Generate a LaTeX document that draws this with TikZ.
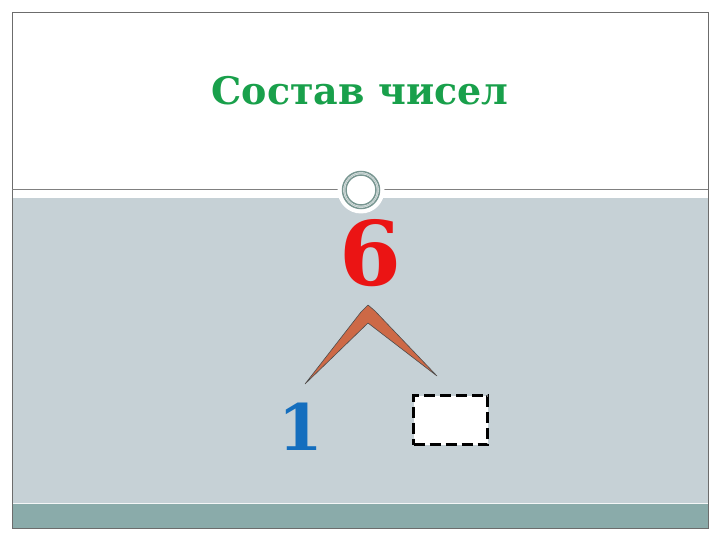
\documentclass[tikz,border=0pt]{standalone}
\usepackage{fontspec}
\setmainfont{DejaVu Serif}
\definecolor{bgray}{RGB}{198,209,214}
\definecolor{strip}{RGB}{138,171,170}
\definecolor{ttl}{RGB}{25,160,75}
\definecolor{six}{RGB}{235,20,20}
\definecolor{one}{RGB}{20,110,190}
\definecolor{ring}{RGB}{120,150,145}
\definecolor{chev}{RGB}{205,105,70}
\begin{document}
\begin{tikzpicture}[x=1pt,y=-1pt,
  frameline/.style={draw=gray!85!black,line width=0.9pt}]
\useasboundingbox (0,0) rectangle (720,540);
\fill[white] (0,0) rectangle (720,540);
% panels
\fill[bgray] (12,198) rectangle (708,503);
\fill[strip] (12,503) rectangle (708,528);
\draw[white!80!bgray,line width=1pt] (12,503) -- (708,503);
\draw[frameline] (12,12) rectangle (708,528);
\draw[gray,line width=1pt] (12,190) -- (708,190);
% circle
\fill[white] (361,190) circle (23.5);
\draw[ring,line width=1.5pt] (361,190) circle (18.5);
\draw[ring,line width=1.5pt] (361,190) circle (15);
\draw[ring!50!white,line width=1.2pt] (361,190) circle (16.75);
% texts
\node[font=\fontsize{38}{38}\selectfont\bfseries,text=ttl] (title) at (360,91) {Состав чисел};
\node[font=\fontsize{89}{89}\selectfont\bfseries,text=six] (six) at (370,253) {6};
\node[font=\fontsize{64}{64}\selectfont\bfseries,text=one] (one) at (300.5,427) {1};
% chevron
\filldraw[fill=chev,draw=black!70,line width=0.6pt,line join=round]
  (305,384) -- (361,312) -- (368,305) -- (375,311) -- (437,376) -- (368,323) -- cycle;
% dashed box
\node[draw=black,fill=white,dash pattern=on 11pt off 5pt,line width=3.8pt,
  minimum width=74pt,minimum height=49pt,inner sep=0pt] (box) at (450.5,420) {};
\end{tikzpicture}
\end{document}
